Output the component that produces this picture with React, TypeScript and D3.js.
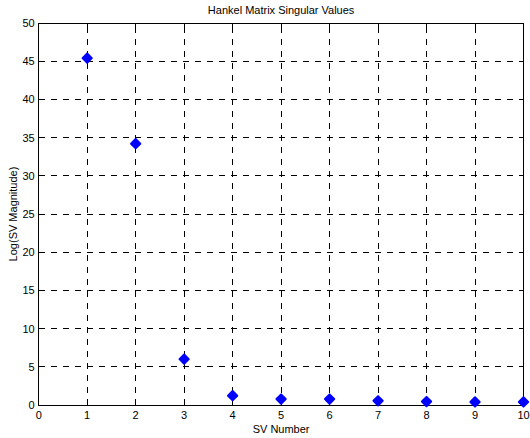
import React from "react";
import * as d3 from "d3";

const svNumbers = [1, 2, 3, 4, 5, 6, 7, 8, 9, 10];
const svValues = [45.4, 34.2, 6.0, 1.22, 0.78, 0.78, 0.55, 0.45, 0.4, 0.4];
const xTicks = [0, 1, 2, 3, 4, 5, 6, 7, 8, 9, 10];
const yTicks = [0, 5, 10, 15, 20, 25, 30, 35, 40, 45, 50];

const W = 530, H = 438;
const L = 38.7, R = 523.5, T = 23, B = 405;

export default function App() {
  const x = d3.scaleLinear().domain([0, 10]).range([L, R]);
  const y = d3.scaleLinear().domain([0, 50]).range([B, T]);
  const font = "'Liberation Sans', Arial, sans-serif";
  const diamond = d3.symbol().type(d3.symbolDiamond2).size(55)() as string;
  return (
    <svg width={W} height={H} style={{ position: "absolute", left: 0, top: 0, background: "#fff" }}>
      <rect x={0} y={0} width={W} height={H} fill="#fff" />
      {xTicks.slice(1, -1).map((t) => (
        <line key={"gx" + t} x1={x(t)} x2={x(t)} y1={B} y2={T} stroke="#000" strokeWidth={1} strokeDasharray="6,6" shapeRendering="crispEdges" />
      ))}
      {yTicks.slice(1, -1).map((t) => (
        <line key={"gy" + t} x1={L} x2={R} y1={y(t)} y2={y(t)} stroke="#000" strokeWidth={1} strokeDasharray="6,6" shapeRendering="crispEdges" />
      ))}
      {xTicks.map((t) => (
        <g key={"tx" + t}>
          <line x1={x(t)} x2={x(t)} y1={B} y2={B - 5} stroke="#000" shapeRendering="crispEdges" />
          <line x1={x(t)} x2={x(t)} y1={T} y2={T + 5} stroke="#000" shapeRendering="crispEdges" />
          <text x={x(t)} y={B + 14} textAnchor="middle" fontFamily={font} fontSize={11}>{t}</text>
        </g>
      ))}
      {yTicks.map((t) => (
        <g key={"ty" + t}>
          <line x1={L} x2={L + 5} y1={y(t)} y2={y(t)} stroke="#000" shapeRendering="crispEdges" />
          <line x1={R} x2={R - 5} y1={y(t)} y2={y(t)} stroke="#000" shapeRendering="crispEdges" />
          <text x={L - 4} y={y(t) + 4} textAnchor="end" fontFamily={font} fontSize={11}>{t}</text>
        </g>
      ))}
      <rect x={L} y={T} width={R - L} height={B - T} fill="none" stroke="#000" strokeWidth={1} shapeRendering="crispEdges" />
      {svNumbers.map((n, i) => (
        <path key={"p" + n} d={diamond} transform={`translate(${x(n)},${y(svValues[i])})`} fill="#0000ff" stroke="#0000ff" strokeWidth={2} strokeLinejoin="round" />
      ))}
      <text x={(L + R) / 2} y={14} textAnchor="middle" fontFamily={font} fontSize={11}>Hankel Matrix Singular Values</text>
      <text x={(L + R) / 2} y={433} textAnchor="middle" fontFamily={font} fontSize={11}>SV Number</text>
      <text transform={`translate(17,${(T + B) / 2}) rotate(-90)`} textAnchor="middle" fontFamily={font} fontSize={11}>Log(SV Magnitude)</text>
    </svg>
  );
}
